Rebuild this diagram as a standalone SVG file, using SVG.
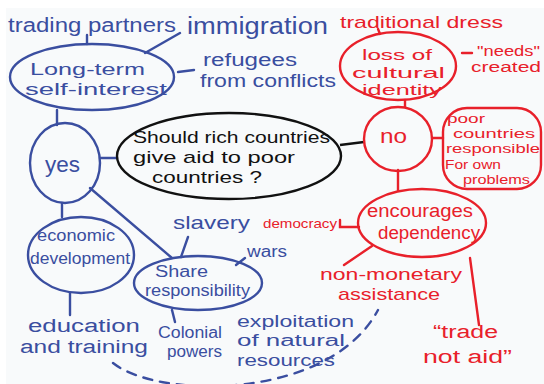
<svg xmlns="http://www.w3.org/2000/svg" width="544" height="384" viewBox="0 0 544 384">
<style>
text{font-family:"Liberation Sans","DejaVu Sans",sans-serif;}
.b{fill:#3a4ea0;}
.r{fill:#e8202a;}
.k{fill:#111;}
.sb{fill:none;stroke:#3a4ea0;stroke-width:2.4;stroke-linecap:round;}
.sr{fill:none;stroke:#e8202a;stroke-width:2.4;stroke-linecap:round;}
.sk{fill:none;stroke:#111;stroke-width:2.4;}
</style>
<rect width="544" height="384" fill="#ffffff"/>
<rect x="6" y="8" width="538" height="376" fill="#f8fafb"/>

<g id="connectors">
  <line class="sb" x1="87" y1="35" x2="87" y2="44"/>
  <line class="sb" x1="145" y1="53" x2="180" y2="33"/>
  <line class="sb" x1="178" y1="72" x2="194" y2="70"/>
  <line class="sb" x1="57" y1="110" x2="57" y2="125"/>
  <line class="sb" x1="100" y1="158" x2="117" y2="158"/>
  <line class="sb" x1="62" y1="203" x2="62" y2="217"/>
  <line class="sb" x1="90" y1="188" x2="172" y2="258"/>
  <line class="sb" x1="70" y1="293" x2="70" y2="315"/>
  <line class="sb" x1="188" y1="237" x2="181" y2="257"/>
  <line class="sb" x1="245" y1="258" x2="236" y2="265"/>
  <line class="sb" x1="172" y1="310" x2="175" y2="322"/>
  <path class="sb" d="M113 363 C160 400 330 400 378 310" stroke-dasharray="9 8"/>
  <line class="sk" x1="340" y1="145" x2="364" y2="142"/>
  <line class="sr" x1="378" y1="29" x2="380" y2="34"/>
  <line class="sr" x1="405" y1="100" x2="405" y2="107"/>
  <line class="sr" x1="462" y1="53" x2="472" y2="53"/>
  <line class="sr" x1="432" y1="138" x2="443" y2="138"/>
  <line class="sr" x1="398" y1="170" x2="398" y2="190"/>
  <polyline class="sr" points="340,220 340,227 359,227"/>
  <line class="sr" x1="372" y1="246" x2="344" y2="265"/>
  <line class="sr" x1="470" y1="258" x2="479" y2="325"/>
</g>

<g id="question">
  <ellipse class="sk" cx="229" cy="156" rx="112" ry="43"/>
  <text class="k" x="133" y="143" font-size="17" textLength="197" lengthAdjust="spacingAndGlyphs">Should rich countries</text>
  <text class="k" x="133" y="163" font-size="17" textLength="162" lengthAdjust="spacingAndGlyphs">give aid to poor</text>
  <text class="k" x="152" y="183" font-size="17" textLength="110" lengthAdjust="spacingAndGlyphs">countries ?</text>
</g>

<g id="trading-partners"><text class="b" x="8" y="32" font-size="20" textLength="168" lengthAdjust="spacingAndGlyphs">trading partners</text></g>
<g id="immigration"><text class="b" x="187" y="34" font-size="23" textLength="141" lengthAdjust="spacingAndGlyphs">immigration</text></g>
<g id="long-term">
  <ellipse class="sb" cx="92" cy="77" rx="82" ry="33"/>
  <text class="b" x="30" y="75" font-size="17" textLength="115" lengthAdjust="spacingAndGlyphs">Long-term</text>
  <text class="b" x="25" y="95" font-size="17" textLength="142" lengthAdjust="spacingAndGlyphs">self-interest</text>
</g>
<g id="refugees">
  <text class="b" x="203" y="66" font-size="18" textLength="94" lengthAdjust="spacingAndGlyphs">refugees</text>
  <text class="b" x="200" y="87" font-size="18" textLength="136" lengthAdjust="spacingAndGlyphs">from conflicts</text>
</g>
<g id="yes">
  <ellipse class="sb" cx="65" cy="163" rx="35" ry="40"/>
  <text class="b" x="45" y="172" font-size="22" textLength="35" lengthAdjust="spacingAndGlyphs">yes</text>
</g>
<g id="economic-development">
  <ellipse class="sb" cx="81" cy="255" rx="53" ry="38"/>
  <text class="b" x="37" y="241" font-size="16" textLength="78" lengthAdjust="spacingAndGlyphs">economic</text>
  <text class="b" x="30" y="264" font-size="16" textLength="100" lengthAdjust="spacingAndGlyphs">development</text>
</g>
<g id="education"><text class="b" x="28" y="332" font-size="18" textLength="112" lengthAdjust="spacingAndGlyphs">education</text>
  <text class="b" x="20" y="353" font-size="18" textLength="128" lengthAdjust="spacingAndGlyphs">and training</text></g>
<g id="slavery"><text class="b" x="173" y="229" font-size="19" textLength="77" lengthAdjust="spacingAndGlyphs">slavery</text></g>
<g id="wars"><text class="b" x="247" y="257" font-size="16" textLength="40" lengthAdjust="spacingAndGlyphs">wars</text></g>
<g id="share-responsibility">
  <ellipse class="sb" cx="198" cy="283" rx="64" ry="27"/>
  <text class="b" x="155" y="277" font-size="16" textLength="53" lengthAdjust="spacingAndGlyphs">Share</text>
  <text class="b" x="145" y="296" font-size="16" textLength="105" lengthAdjust="spacingAndGlyphs">responsibility</text>
</g>
<g id="colonial-powers">
  <text class="b" x="158" y="338" font-size="16" textLength="64" lengthAdjust="spacingAndGlyphs">Colonial</text>
  <text class="b" x="167" y="357" font-size="16" textLength="55" lengthAdjust="spacingAndGlyphs">powers</text>
</g>
<g id="exploitation">
  <text class="b" x="237" y="327" font-size="16" textLength="117" lengthAdjust="spacingAndGlyphs">exploitation</text>
  <text class="b" x="237" y="346" font-size="16" textLength="108" lengthAdjust="spacingAndGlyphs">of natural</text>
  <text class="b" x="237" y="366" font-size="16" textLength="98" lengthAdjust="spacingAndGlyphs">resources</text>
</g>

<g id="traditional-dress"><text class="r" x="340" y="28" font-size="17" textLength="163" lengthAdjust="spacingAndGlyphs">traditional dress</text></g>
<g id="loss-of-identity">
  <ellipse class="sr" cx="398" cy="66" rx="58" ry="34"/>
  <text class="r" x="362" y="60" font-size="15" textLength="70" lengthAdjust="spacingAndGlyphs">loss of</text>
  <text class="r" x="352" y="78" font-size="15" textLength="93" lengthAdjust="spacingAndGlyphs">cultural</text>
  <text class="r" x="362" y="95" font-size="15" textLength="80" lengthAdjust="spacingAndGlyphs">identity</text>
</g>
<g id="needs-created">
  <text class="r" x="477" y="56" font-size="14" textLength="63" lengthAdjust="spacingAndGlyphs">"needs"</text>
  <text class="r" x="471" y="72" font-size="14" textLength="70" lengthAdjust="spacingAndGlyphs">created</text>
</g>
<g id="no">
  <ellipse class="sr" cx="398" cy="139" rx="34" ry="32"/>
  <text class="r" x="380" y="143" font-size="21" textLength="27" lengthAdjust="spacingAndGlyphs">no</text>
</g>
<g id="poor-countries">
  <rect class="sr" x="443" y="108" width="98" height="81" rx="24"/>
  <text class="r" x="447" y="123" font-size="13" textLength="38" lengthAdjust="spacingAndGlyphs">poor</text>
  <text class="r" x="453" y="138" font-size="13" textLength="82" lengthAdjust="spacingAndGlyphs">countries</text>
  <text class="r" x="446" y="153" font-size="13" textLength="94" lengthAdjust="spacingAndGlyphs">responsible</text>
  <text class="r" x="445" y="169" font-size="13" textLength="56" lengthAdjust="spacingAndGlyphs">For own</text>
  <text class="r" x="463" y="184" font-size="13" textLength="67" lengthAdjust="spacingAndGlyphs">problems</text>
</g>
<g id="encourages-dependency">
  <ellipse class="sr" cx="422" cy="223" rx="64" ry="34"/>
  <text class="r" x="367" y="217" font-size="18" textLength="106" lengthAdjust="spacingAndGlyphs">encourages</text>
  <text class="r" x="378" y="239" font-size="18" textLength="102" lengthAdjust="spacingAndGlyphs">dependency</text>
</g>
<g id="democracy"><text class="r" x="263" y="228" font-size="13" textLength="74" lengthAdjust="spacingAndGlyphs">democracy</text></g>
<g id="non-monetary">
  <text class="r" x="320" y="280" font-size="17" textLength="142" lengthAdjust="spacingAndGlyphs">non-monetary</text>
  <text class="r" x="338" y="300" font-size="17" textLength="102" lengthAdjust="spacingAndGlyphs">assistance</text>
</g>
<g id="trade-not-aid">
  <text class="r" x="433" y="338" font-size="18" textLength="65" lengthAdjust="spacingAndGlyphs">“trade</text>
  <text class="r" x="423" y="363" font-size="18" textLength="89" lengthAdjust="spacingAndGlyphs">not aid”</text>
</g>
</svg>
